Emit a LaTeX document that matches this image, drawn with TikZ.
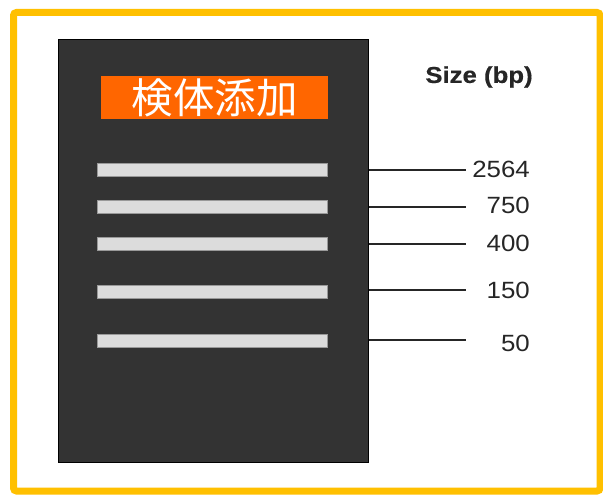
\documentclass[tikz,border=0pt]{standalone}
\usepackage{fontspec}
\setmainfont{Liberation Sans}
\newfontfamily\widefont[FakeStretch=1.1]{Liberation Sans}
\newfontfamily\widebold[FakeStretch=1.12,FakeBold=0.4]{Liberation Sans Bold}
\newfontfamily\cjk{Noto Sans CJK JP}
\definecolor{gold}{HTML}{FFC000}
\definecolor{gel}{HTML}{333333}
\definecolor{band}{HTML}{DCDCDC}
\definecolor{orng}{HTML}{FF6600}
\begin{document}
\begin{tikzpicture}[x=1pt,y=-1pt,
  bandbox/.style={fill=band,draw=gray!80,line width=0.8pt,minimum width=230pt,minimum height=13pt,inner sep=0pt},
  sizelbl/.style={font=\widefont\fontsize{23.5}{23.5}\selectfont,anchor=east,inner sep=0pt,text=black!85},
  tick/.style={line width=1.6pt,black!85}]
\useasboundingbox (0,0) rectangle (603,495);
\fill[white] (0,0) rectangle (603,495);
\draw[gold,line width=7pt,rounded corners=3pt] (13.5,12.5) rectangle (600,491);
\node[fill=gel,draw=black,line width=1.8pt,minimum width=310pt,minimum height=423pt,inner sep=0pt] (gel) at (213.5,251) {};
\node[fill=orng,minimum width=227pt,minimum height=43pt,inner sep=0pt,text=white,font=\cjk\fontsize{41.5}{41.5}\selectfont] (lbl) at (214.5,97.5) {検体添加};
\node[bandbox] (b1) at (212,170) {};
\node[bandbox] (b2) at (212,207) {};
\node[bandbox] (b3) at (212,244) {};
\node[bandbox] (b4) at (212,292) {};
\node[bandbox] (b5) at (212,341) {};
\coordinate (t1) at (466,170);
\coordinate (t2) at (466,207);
\coordinate (t3) at (466,244);
\coordinate (t4) at (466,290);
\coordinate (t5) at (466,340);
\draw[tick] (gel.east |- t1) -- (t1);
\draw[tick] (gel.east |- t2) -- (t2);
\draw[tick] (gel.east |- t3) -- (t3);
\draw[tick] (gel.east |- t4) -- (t4);
\draw[tick] (gel.east |- t5) -- (t5);
\node[sizelbl] (s1) at (530,169) {2564};
\node[sizelbl] (s2) at (530,205) {750};
\node[sizelbl] (s3) at (530,243) {400};
\node[sizelbl] (s4) at (530,290) {150};
\node[sizelbl] (s5) at (530,343) {50};
\node[font=\widebold\fontsize{23}{23}\selectfont,text=black!85,inner sep=0pt] (hdr) at (479,77) {Size (bp)};
\end{tikzpicture}
\end{document}
